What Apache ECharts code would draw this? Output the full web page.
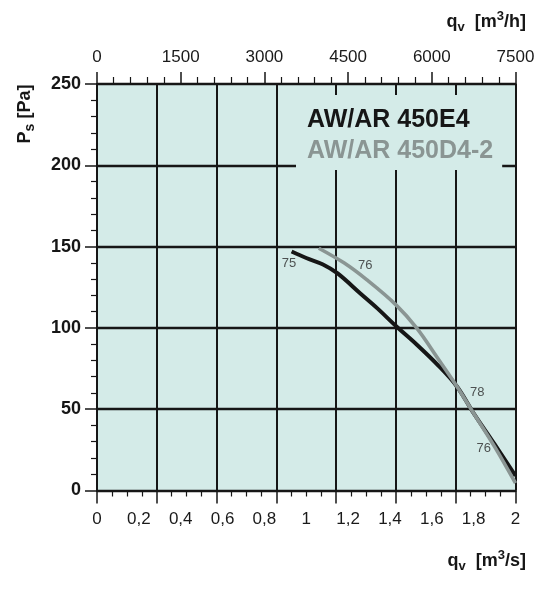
<!DOCTYPE html>
<html>
<head>
<meta charset="utf-8">
<script src="https://cdn.jsdelivr.net/npm/echarts@6/dist/echarts.min.js"></script>
<style>
html,body{margin:0;padding:0;background:#fff;}
#chart{width:544px;height:597px;}
</style>
</head>
<body>
<div id="chart"></div>
<script>
// ---- data ----
const seriesNames = ['AW/AR 450E4', 'AW/AR 450D4-2'];
const qE4  = [0.93, 1.0, 1.08, 1.15, 1.26, 1.34, 1.43, 1.53, 1.63, 1.72, 1.80, 1.90, 2.0];
const psE4 = [147, 143, 139, 133.5, 121, 112, 101, 89.5, 77, 64, 47.5, 28.5, 9];
const qD4  = [1.06, 1.18, 1.29, 1.43, 1.53, 1.63, 1.72, 1.80, 1.90, 2.0];
const psD4 = [149, 140, 129.5, 114, 99.5, 81, 64, 47.5, 27, 4.5];
const noteQ    = [0.918, 1.282, 1.817, 1.848];
const notePs   = [139.7, 138.7, 60.2, 26];
const noteText = ['75', '76', '78', '76'];
// axis ranges / tick steps
const qsMax = 2, qsStep = 0.2;          // m3/s (bottom labels)
const qhMax = 7500, qhStep = 1500;      // m3/h (top labels)
const gridDivs = 7;                      // vertical grid divisions
const psMax = 250, psStep = 50;          // Pa

const FONT = '"Liberation Sans", Arial, Helvetica, sans-serif';
const BG = '#d4ebe8';
const INK = '#161616';
const GREY = '#8a9593';

const zip = (a, b) => a.map((v, i) => [v, b[i]]);

const chart = echarts.init(document.getElementById('chart'), null, {renderer: 'canvas'});

const richTitle = {
  m: {fontFamily: FONT, fontSize: 18, fontWeight: 'bold', lineHeight: 24, verticalAlign: 'middle', fill: INK, color: INK},
  s: {fontFamily: FONT, fontSize: 13, fontWeight: 'bold', lineHeight: 12, verticalAlign: 'bottom', fill: INK, color: INK},
  p: {fontFamily: FONT, fontSize: 13, fontWeight: 'bold', lineHeight: 15, verticalAlign: 'top', fill: INK, color: INK}
};

const option = {
  animation: false,
  backgroundColor: '#ffffff',
  textStyle: {fontFamily: FONT},
  grid: {left: 97, right: 28.5, top: 84, bottom: 106.5, show: true, backgroundColor: BG, borderWidth: 0},
  legend: {
    orient: 'vertical', left: 296, top: 95,
    padding: [13, 9, 6, 6], itemGap: 6,
    backgroundColor: BG,
    icon: 'none', itemWidth: 0, itemHeight: 0,
    selectedMode: false,
    textStyle: {fontFamily: FONT, fontSize: 25, fontWeight: 'bold', color: INK},
    data: [
      {name: seriesNames[0], textStyle: {color: INK}},
      {name: seriesNames[1], textStyle: {color: GREY}}
    ]
  },
  xAxis: [
    { // bottom labels, m3/s
      type: 'value', position: 'bottom', min: 0, max: qsMax, interval: qsStep,
      axisLine: {show: true, lineStyle: {color: INK, width: 2}},
      axisTick: {show: false}, splitLine: {show: false},
      axisLabel: {
        margin: 20, fontSize: 17, color: '#1a1a1a', fontFamily: FONT,
        formatter: v => String(+v.toFixed(1)).replace('.', ',')
      }
    },
    { // grid divisions
      type: 'value', position: 'bottom', min: 0, max: gridDivs, interval: 1,
      axisLine: {show: true, lineStyle: {color: INK, width: 2}},
      axisTick: {show: true, length: 13, lineStyle: {color: INK, width: 1.5}},
      minorTick: {show: true, splitNumber: 4, length: 6, lineStyle: {color: INK, width: 1.2}},
      axisLabel: {show: false},
      splitLine: {show: true, lineStyle: {color: INK, width: 2}}
    },
    { // top, m3/h
      type: 'value', position: 'top', min: 0, max: qhMax, interval: qhStep,
      axisLine: {show: true, lineStyle: {color: INK, width: 2}},
      axisTick: {show: true, length: 12, lineStyle: {color: INK, width: 1.5}},
      minorTick: {show: true, splitNumber: 5, length: 7, lineStyle: {color: INK, width: 1.2}},
      splitLine: {show: false},
      axisLabel: {margin: 18, fontSize: 17, color: '#1a1a1a', fontFamily: FONT,
                  formatter: v => String(Math.round(v))}
    }
  ],
  yAxis: [
    {
      type: 'value', position: 'left', min: 0, max: psMax, interval: psStep,
      axisLine: {show: true, lineStyle: {color: INK, width: 2}},
      axisTick: {show: true, length: 12, lineStyle: {color: INK, width: 1.5}},
      minorTick: {show: true, splitNumber: 5, length: 6, lineStyle: {color: INK, width: 1.2}},
      splitLine: {show: true, lineStyle: {color: INK, width: 2.4}},
      axisLabel: {margin: 16, fontSize: 18, fontWeight: 'bold', color: INK, fontFamily: FONT}
    },
    {
      type: 'value', position: 'right', min: 0, max: psMax, interval: psStep,
      axisLine: {show: true, lineStyle: {color: INK, width: 2}},
      axisTick: {show: false}, axisLabel: {show: false}, splitLine: {show: false}
    }
  ],
  series: [
    {
      name: seriesNames[0], type: 'line', xAxisIndex: 0, yAxisIndex: 0,
      data: zip(qE4, psE4), smooth: 0.35, showSymbol: false, symbol: 'none',
      lineStyle: {color: INK, width: 4}, itemStyle: {color: INK}, z: 3
    },
    {
      name: seriesNames[1], type: 'line', xAxisIndex: 0, yAxisIndex: 0,
      data: zip(qD4, psD4), smooth: 0.35, showSymbol: false, symbol: 'none',
      lineStyle: {color: GREY, width: 3.6}, itemStyle: {color: GREY}, z: 4
    },
    {
      name: 'notes', type: 'scatter', xAxisIndex: 0, yAxisIndex: 0, silent: true,
      symbolSize: 1, itemStyle: {color: 'rgba(0,0,0,0)'},
      data: noteQ.map((q, i) => [q, notePs[i], noteText[i]]),
      label: {show: true, position: 'inside', formatter: p => p.value[2],
              fontSize: 13, color: '#2a2a2a', fontFamily: FONT},
      z: 5
    }
  ],
  graphic: [
    {
      type: 'text', x: 526, y: 22,
      style: {text: '{m|q}{s|v}{m|  [m}{p|3}{m|/h]}', align: 'right', verticalAlign: 'middle', fill: INK, rich: richTitle}
    },
    {
      type: 'text', x: 526, y: 561,
      style: {text: '{m|q}{s|v}{m|  [m}{p|3}{m|/s]}', align: 'right', verticalAlign: 'middle', fill: INK, rich: richTitle}
    },
    {
      type: 'text', x: 25, y: 114, rotation: Math.PI / 2,
      style: {
        text: '{m|P}{s|s}{m| [Pa]}',
        align: 'center', verticalAlign: 'middle', fill: INK,
        rich: {
          m: {fontFamily: FONT, fontSize: 18, fontWeight: 'bold', lineHeight: 24, verticalAlign: 'middle', fill: INK, color: INK},
          s: {fontFamily: FONT, fontSize: 14, fontWeight: 'bold', lineHeight: 12, verticalAlign: 'bottom', fill: INK, color: INK}
        }
      }
    }
  ]
};
chart.setOption(option);
</script>
</body>
</html>
